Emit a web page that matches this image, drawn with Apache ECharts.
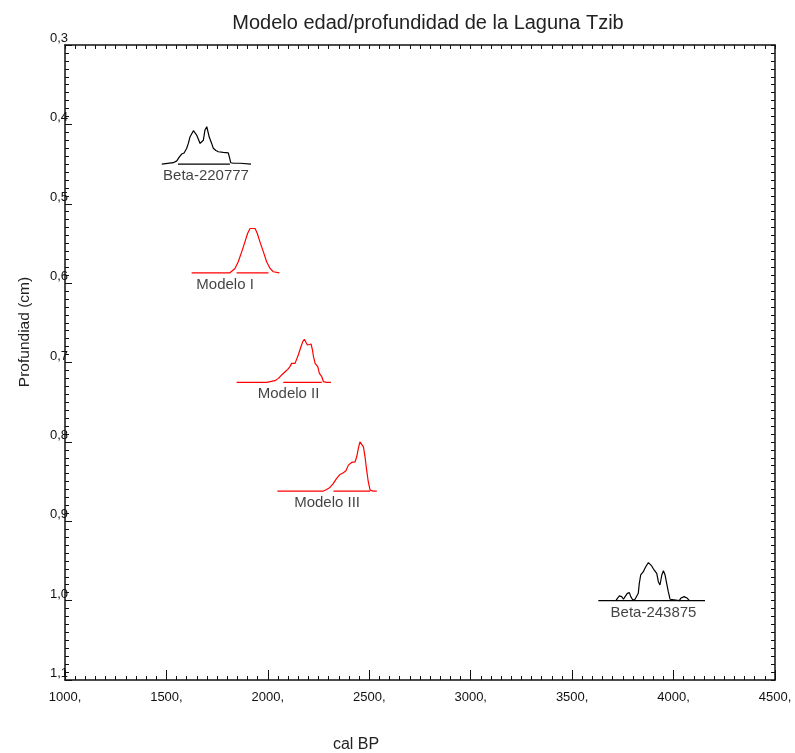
<!DOCTYPE html>
<html>
<head>
<meta charset="utf-8">
<script src="https://cdn.jsdelivr.net/npm/echarts@6/dist/echarts.min.js"></script>
<style>
  html, body { margin: 0; padding: 0; background: #fff; }
  #chart { width: 795px; height: 753px; }
</style>
</head>
<body>
<div id="chart"></div>
<script>
// Calibrated age distributions for Laguna Tzib, plotted at their depth.
const sampleNames = ['Beta-220777', 'Modelo I', 'Modelo II', 'Modelo III', 'Beta-243875'];
const sampleDepths = [0.45, 0.587, 0.725, 0.862, 1.0];
const sampleColors = ['#000000', '#ff0000', '#ff0000', '#ff0000', '#000000'];

// Probability curves: cal BP age and curve height (in depth units above the baseline)
const beta220777Age = [1477, 1534, 1551, 1564, 1575, 1587, 1600, 1608, 1616, 1633, 1641, 1649, 1657, 1666, 1674, 1682, 1690, 1699, 1707, 1711, 1723, 1731, 1744, 1756, 1764, 1780, 1805, 1810, 1817, 1830, 1863, 1917];
const beta220777Prob = [0, 0.0017, 0.004, 0.009, 0.0126, 0.014, 0.020, 0.026, 0.034, 0.042, 0.041, 0.0365, 0.035, 0.026, 0.024, 0.030, 0.043, 0.047, 0.045, 0.034, 0.026, 0.020, 0.017, 0.0155, 0.017, 0.0147, 0.014, 0.009, 0.0017, 0.001, 0.001, 0];

const modelo1Age = [1624, 1813, 1822, 1838, 1854, 1871, 1887, 1900, 1912, 1937, 1948, 1961, 1978, 1994, 2011, 2027, 2057];
const modelo1Prob = [0, 0, 0.0021, 0.0055, 0.0139, 0.0264, 0.039, 0.0495, 0.0558, 0.0558, 0.0495, 0.039, 0.0264, 0.0139, 0.0055, 0.0013, 0];

const modelo2Age = [1846, 1994, 1999, 2035, 2052, 2068, 2085, 2098, 2109, 2117, 2134, 2142, 2150, 2163, 2172, 2180, 2188, 2195, 2203, 2213, 2220, 2225, 2233, 2246, 2254, 2266, 2274, 2290, 2311];
const modelo2Prob = [0, 0, 0.0008, 0.0021, 0.005, 0.0092, 0.0134, 0.0164, 0.0197, 0.0239, 0.0239, 0.026, 0.0344, 0.0449, 0.0512, 0.0542, 0.0525, 0.047, 0.0491, 0.0483, 0.0407, 0.0323, 0.0239, 0.0197, 0.0113, 0.0071, 0.0008, 0, 0];

const modelo3Age = [2047, 2274, 2290, 2306, 2323, 2339, 2356, 2372, 2385, 2397, 2413, 2430, 2438, 2446, 2454, 2463, 2471, 2479, 2487, 2495, 2504, 2520, 2537];
const modelo3Prob = [0, 0, 0.0021, 0.0046, 0.0097, 0.016, 0.021, 0.0231, 0.0256, 0.0327, 0.0361, 0.0369, 0.0432, 0.0537, 0.0621, 0.063, 0.0558, 0.0432, 0.0264, 0.0118, 0.0013, 0, 0];

const beta243875Age = [3629, 3716, 3723, 3733, 3744, 3753, 3761, 3772, 3782, 3789, 3799, 3810, 3818, 3826, 3831, 3838, 3851, 3859, 3868, 3876, 3884, 3892, 3904, 3917, 3925, 3933, 3942, 3950, 3958, 3966, 3974, 3983, 3991, 4029, 4035, 4052, 4068, 4078, 4155];
const beta243875Prob = [0, 0, 0.0029, 0.0059, 0.005, 0.0017, 0.005, 0.0092, 0.0101, 0.005, 0.0008, 0.0017, 0.0029, 0.0092, 0.0218, 0.0323, 0.0365, 0.0407, 0.0449, 0.0479, 0.0462, 0.0437, 0.0386, 0.0344, 0.0239, 0.0197, 0.0323, 0.0378, 0.0323, 0.0218, 0.0113, 0.0017, 0, 0, 0.0029, 0.005, 0.0029, 0, 0];

// Highest-density ranges drawn along each baseline
const rangeStart = [1557, 1846, 2076, 2323, 3716];
const rangeEnd = [1813, 2003, 2266, 2504, 4078];

// Where each sample label is centred (cal BP)
const labelAge = [1695, 1789, 2102, 2292, 3901];

const sampleAges = [beta220777Age, modelo1Age, modelo2Age, modelo3Age, beta243875Age];
const sampleProbs = [beta220777Prob, modelo1Prob, modelo2Prob, modelo3Prob, beta243875Prob];

const xTickLabels = ['1000,', '1500,', '2000,', '2500,', '3000,', '3500,', '4000,', '4500,'];
const yTickLabels = ['0,3', '0,4', '0,5', '0,6', '0,7', '0,8', '0,9', '1,0', '1,1'];

const FONT = '"Liberation Sans", Arial, sans-serif';
const AX = '#111';

function xAxisDef(position, showLabels) {
  return {
    type: 'value', position: position, min: 1000, max: 4500, interval: 500,
    axisLine: { show: true, onZero: false, lineStyle: { color: AX, width: 1.5 } },
    axisTick: { show: true, inside: true, length: showLabels ? 10 : 4, lineStyle: { color: AX, width: 1 } },
    minorTick: { show: true, splitNumber: 10, length: 4, lineStyle: { color: AX, width: 1 } },
    splitLine: { show: false },
    axisLabel: {
      show: showLabels, margin: 11, color: '#111', fontFamily: FONT, fontSize: 13,
      showMinLabel: true, showMaxLabel: true,
      formatter: v => xTickLabels[Math.round((v - 1000) / 500)]
    }
  };
}

function yAxisDef(position, showLabels) {
  return {
    type: 'value', position: position, inverse: true, min: 0.3, max: 1.1, interval: 0.1,
    axisLine: { show: true, onZero: false, lineStyle: { color: AX, width: 1.5 } },
    axisTick: { show: true, inside: true, length: showLabels ? 7 : 4, lineStyle: { color: AX, width: 1 } },
    minorTick: { show: true, splitNumber: 10, length: 4, lineStyle: { color: AX, width: 1 } },
    splitLine: { show: false },
    axisLabel: {
      show: showLabels, margin: -3, align: 'right', verticalAlign: 'bottom',
      color: '#111', fontFamily: FONT, fontSize: 13,
      showMinLabel: true, showMaxLabel: true,
      formatter: v => yTickLabels[Math.round((v - 0.3) / 0.1)]
    }
  };
}

const series = [];
sampleNames.forEach((name, i) => {
  const depth = sampleDepths[i];
  series.push({
    name: name, type: 'line', xAxisIndex: 0, yAxisIndex: 0,
    showSymbol: false, symbol: 'none', silent: true,
    lineStyle: { color: sampleColors[i], width: 1.2 },
    data: sampleAges[i].map((a, k) => [a, depth - sampleProbs[i][k]])
  });
  series.push({
    type: 'line', xAxisIndex: 0, yAxisIndex: 0,
    showSymbol: false, symbol: 'none', silent: true,
    lineStyle: { color: sampleColors[i], width: 1.2 },
    data: [[rangeStart[i], depth], [rangeEnd[i], depth]]
  });
  series.push({
    type: 'scatter', xAxisIndex: 0, yAxisIndex: 0, symbolSize: 0, silent: true,
    data: [[labelAge[i], depth]],
    label: {
      show: true, position: 'inside', offset: [0, 12],
      formatter: () => name, color: '#111', fontFamily: FONT, fontSize: 15
    }
  });
});

const chart = echarts.init(document.getElementById('chart'), null, { renderer: 'canvas' });
chart.setOption({
  animation: false,
  backgroundColor: '#fff',
  grid: { left: 65, right: 20, top: 45, bottom: 73, containLabel: false },
  xAxis: [xAxisDef('bottom', true), xAxisDef('top', false)],
  yAxis: [yAxisDef('left', true), yAxisDef('right', false)],
  graphic: [
    { type: 'text', x: 428, y: 23, style: { text: 'Modelo edad/profundidad de la Laguna Tzib', fill: '#222', font: '20px ' + FONT, align: 'center', verticalAlign: 'middle' } },
    { type: 'text', x: 25, y: 332, rotation: Math.PI / 2, style: { text: 'Profundiad (cm)', fill: '#222', font: '15.5px ' + FONT, align: 'center', verticalAlign: 'middle' } },
    { type: 'text', x: 356, y: 745, style: { text: 'cal BP', fill: '#222', font: '16px ' + FONT, align: 'center', verticalAlign: 'middle' } }
  ],
  series: series
});
</script>
</body>
</html>
